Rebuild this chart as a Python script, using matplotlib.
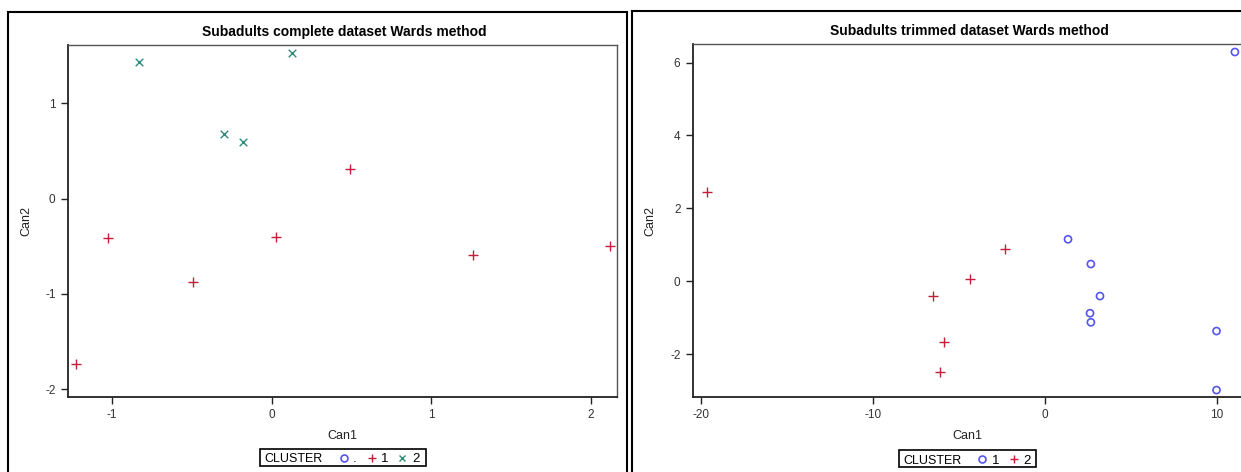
import matplotlib
matplotlib.use("Agg")
import matplotlib.pyplot as plt
from matplotlib.patches import Rectangle
from matplotlib.lines import Line2D

plt.rcParams['font.family'] = ['Liberation Sans', 'DejaVu Sans']
plt.rcParams['axes.unicode_minus'] = False

# === Data: complete dataset (left) ===
complete_c1_can1 = [-1.028, -0.495, 0.026, 0.493, 1.266, 2.125, -1.225]
complete_c1_can2 = [-0.41, -0.875, -0.40, 0.31, -0.59, -0.50, -1.73]
complete_c2_can1 = [-0.83, 0.127, -0.295, -0.179]
complete_c2_can2 = [1.43, 1.53, 0.68, 0.59]

# === Data: trimmed dataset (right) ===
trimmed_c1_can1 = [1.36, 2.69, 3.22, 2.64, 2.69, 10.0, 10.0, 11.07]
trimmed_c1_can2 = [1.15, 0.47, -0.41, -0.88, -1.13, -1.37, -2.99, 6.29]
trimmed_c2_can1 = [-19.65, -2.31, -4.35, -6.5, -5.86, -6.09]
trimmed_c2_can2 = [2.45, 0.88, 0.05, -0.41, -1.68, -2.5]

left_xticks = [-1, 0, 1, 2]
left_yticks = [-2, -1, 0, 1]
right_xticks = [-20, -10, 0, 10]
right_yticks = [-2, 0, 2, 4, 6]

BLUE = '#5555EE'
RED = '#C41E3A'
TEAL = '#2E8B7A'

W, H = 1241, 472
fig = plt.figure(figsize=(W / 100, H / 100), dpi=100)


def fx(px):
    return px / W


def fy(py):
    return 1 - py / H


def style_axes(ax):
    for s in ['top', 'right']:
        ax.spines[s].set_color('#555555')
        ax.spines[s].set_linewidth(1.0)
    for s in ['left', 'bottom']:
        ax.spines[s].set_color('#222222')
        ax.spines[s].set_linewidth(1.3)
    ax.tick_params(direction='out', length=5, width=1, colors='#222222',
                   labelsize=8.5, labelcolor='#333333', pad=4,
                   top=False, right=False)


# outer frames
fig.patches.append(Rectangle((fx(8), fy(490)), fx(627 - 8), fy(12) - fy(490),
                             transform=fig.transFigure, fill=False,
                             edgecolor='black', linewidth=1.5))
fig.patches.append(Rectangle((fx(632), fy(490)), fx(1260 - 632), fy(11) - fy(490),
                             transform=fig.transFigure, fill=False,
                             edgecolor='black', linewidth=1.5))

# === Left panel ===
ax1 = fig.add_axes([fx(68), fy(397), fx(617 - 68), fy(45) - fy(397)])
ax1.scatter(complete_c1_can1, complete_c1_can2, marker='+', s=42, c=RED, linewidths=1)
ax1.scatter(complete_c2_can1, complete_c2_can2, marker='x', s=30, c=TEAL, linewidths=1)
ax1.set_xlim(-1.276, 2.166)
ax1.set_ylim(-2.08, 1.61)
ax1.set_xticks(left_xticks)
ax1.set_yticks(left_yticks)
style_axes(ax1)
fig.text(fx(344), fy(32), "Subadults complete dataset Wards method", ha='center',
         va='center', fontsize=10, fontweight='bold')
fig.text(fx(342), fy(436), "Can1", ha='center', va='center', fontsize=9, color='#222222')
fig.text(fx(26), fy(221), "Can2", ha='center', va='center', fontsize=9,
         rotation=90, color='#222222')

# === Right panel ===
ax2 = fig.add_axes([fx(693), fy(397), fx(1260 - 693), fy(44) - fy(397)])
ax2.scatter(trimmed_c1_can1, trimmed_c1_can2, marker='o', s=26, facecolors='none',
            edgecolors=BLUE, linewidths=1.2)
ax2.scatter(trimmed_c2_can1, trimmed_c2_can2, marker='+', s=42, c=RED, linewidths=1)
ax2.set_xlim(-20.46, 12.53)
ax2.set_ylim(-3.18, 6.51)
ax2.set_xticks(right_xticks)
ax2.set_yticks(right_yticks)
style_axes(ax2)
fig.text(fx(969), fy(31), "Subadults trimmed dataset Wards method", ha='center',
         va='center', fontsize=10, fontweight='bold')
fig.text(fx(967), fy(436), "Can1", ha='center', va='center', fontsize=9, color='#222222')
fig.text(fx(650), fy(221), "Can2", ha='center', va='center', fontsize=9,
         rotation=90, color='#222222')


# === Legends ===
def draw_legend(box, title_x, items):
    x0, x1, y0, y1 = box
    fig.patches.append(Rectangle((fx(x0), fy(y1)), fx(x1 - x0), fy(y0) - fy(y1),
                                 transform=fig.transFigure, fill=False,
                                 edgecolor='black', linewidth=1.2))
    yc = (y0 + y1) / 2
    fig.text(fx(title_x), fy(yc + 0.5), "CLUSTER", ha='left', va='center_baseline',
             fontsize=9)
    for mx, marker, color, ms, tx, label in items:
        if marker == 'o':
            fig.lines.append(Line2D([fx(mx)], [fy(yc)], marker='o', markersize=5,
                                    markerfacecolor='none', markeredgecolor=color,
                                    markeredgewidth=1.2, transform=fig.transFigure))
        else:
            fig.lines.append(Line2D([fx(mx)], [fy(yc)], marker=marker, markersize=ms,
                                    color=color, markeredgewidth=1,
                                    transform=fig.transFigure))
        fig.text(fx(tx), fy(yc + 0.5), label, ha='center', va='center_baseline',
                 fontsize=9.5)


draw_legend((260, 426, 449, 466), 264,
            [(344, 'o', BLUE, 5, 355, '.'),
             (372, '+', RED, 6, 385, '1'),
             (402, 'x', TEAL, 5, 416, '2')])
draw_legend((899, 1036, 450, 467), 903,
            [(982, 'o', BLUE, 5, 996, '1'),
             (1014, '+', RED, 6, 1027, '2')])

fig.savefig("out.png", dpi=100)
